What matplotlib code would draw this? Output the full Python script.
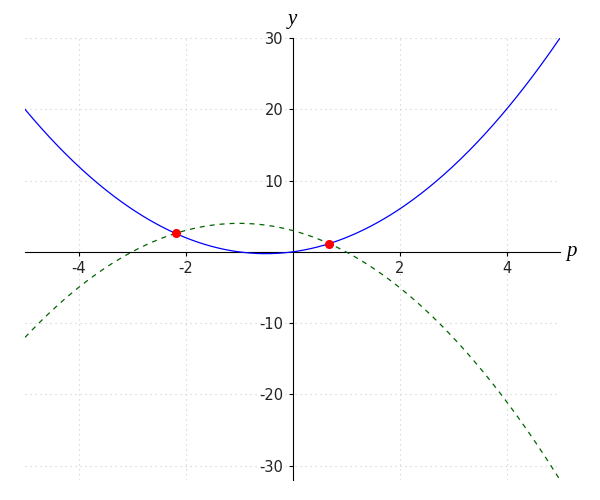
import numpy as np
import matplotlib
matplotlib.use("Agg")
import matplotlib.pyplot as plt

# curve coefficients (highest power first)
blue_coef = [1, 1, 0]        # y = p^2 + p
green_coef = [-1, -2, 3]     # y = -p^2 - 2p + 3
p_range = [-5, 5]

# intersection points
cross_p = [-2.186, 0.686]
cross_y = [2.593, 1.157]

xticks = [-4, -2, 2, 4]
yticks = [-30, -20, -10, 10, 20, 30]

plt.rcParams["axes.unicode_minus"] = False

fig = plt.figure(figsize=(6, 5), dpi=100)
ax = fig.add_axes([25 / 600, 20 / 500, 535 / 600, 442 / 500])

p = np.linspace(p_range[0], p_range[1], 400)
ax.plot(p, np.polyval(blue_coef, p), color="blue", lw=0.9, zorder=3)
ax.plot(p, np.polyval(green_coef, p), color="#006400", lw=0.9,
        ls=(0, (4, 4)), zorder=3)
ax.plot(cross_p, cross_y, "o", color="red", ms=5.5, zorder=4)

ax.set_xlim(-5, 5)
ax.set_ylim(-32, 30)
ax.spines["left"].set_position(("data", 0))
ax.spines["bottom"].set_position(("data", 0))
ax.spines["top"].set_visible(False)
ax.spines["right"].set_visible(False)
ax.set_xticks(xticks)
ax.set_yticks(yticks)
ax.tick_params(direction="out", length=3, labelsize=10.5, width=0.8,
               labelcolor="#222222")
ax.grid(True, ls=(0, (1, 3.5)), color="#cccccc", lw=0.8)
ax.set_axisbelow(True)

ax.text(5.12, 0, "p", fontsize=15, style="italic", family="Liberation Serif",
        ha="left", va="center")
ax.text(0, 31.2, "y", fontsize=15, style="italic", family="Liberation Serif",
        ha="center", va="bottom", clip_on=False)

fig.savefig("out.png", dpi=100)
